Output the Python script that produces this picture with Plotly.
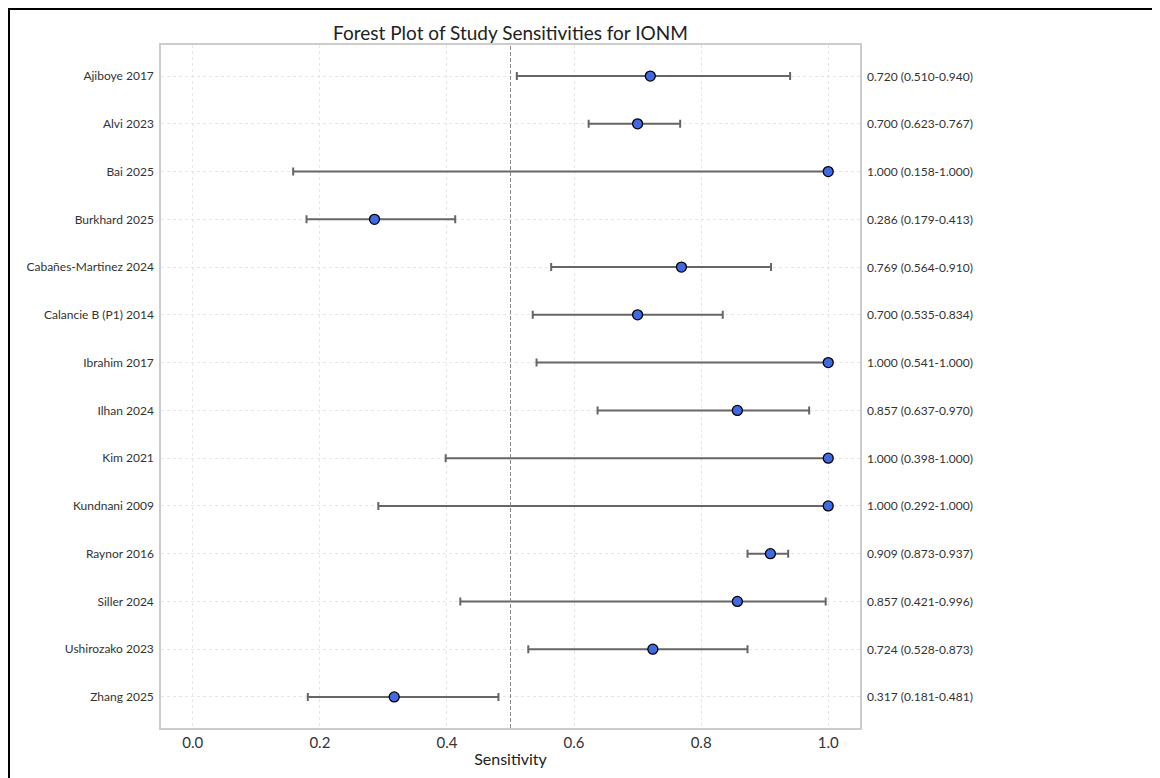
import plotly.graph_objects as go

studies = ["Ajiboye 2017", "Alvi 2023", "Bai 2025", "Burkhard 2025", "Cabañes-Martinez 2024",
           "Calancie B (P1) 2014", "Ibrahim 2017", "Ilhan 2024", "Kim 2021", "Kundnani 2009",
           "Raynor 2016", "Siller 2024", "Ushirozako 2023", "Zhang 2025"]
sens = [0.720, 0.700, 1.000, 0.286, 0.769, 0.700, 1.000, 0.857, 1.000, 1.000, 0.909, 0.857, 0.724, 0.317]
lower = [0.510, 0.623, 0.158, 0.179, 0.564, 0.535, 0.541, 0.637, 0.398, 0.292, 0.873, 0.421, 0.528, 0.181]
upper = [0.940, 0.767, 1.000, 0.413, 0.910, 0.834, 1.000, 0.970, 1.000, 1.000, 0.937, 0.996, 0.873, 0.481]
x_ticks = [0.0, 0.2, 0.4, 0.6, 0.8, 1.0]

FONT = "Lato"
OFF = 8  # page body margin
W, H = 1160 - OFF, 778 - OFF
L, T = 161 - OFF, 45 - OFF
pw, ph = 699, 683
R, B = W - L - pw, H - T - ph

ypos = list(range(len(studies)))

fig = go.Figure()
fig.add_trace(go.Scatter(
    x=sens, y=ypos, mode="markers",
    marker=dict(color="#4169E1", size=10, line=dict(color="black", width=1.3)),
    error_x=dict(type="data", symmetric=False,
                 array=[u - s for u, s in zip(upper, sens)],
                 arrayminus=[s - l for s, l in zip(sens, lower)],
                 color="#666666", thickness=2, width=4),
    showlegend=False, hoverinfo="skip",
))

fig.add_vline(x=0.5, line=dict(color="#888888", width=1, dash="4px,2px"))

for i, (s, lo, up) in enumerate(zip(sens, lower, upper)):
    fig.add_annotation(x=(865 - OFF - L) / pw, xref="paper", y=i, yref="y",
                       text=f"{s:.3f} ({lo:.3f}-{up:.3f})", showarrow=False,
                       xanchor="left", yanchor="middle",
                       font=dict(family=FONT, size=12, color="#333333"))

# outer border
fig.add_shape(type="rect", xref="paper", yref="paper",
              x0=(9 - OFF - L) / pw, x1=(W + 10 - L) / pw,
              y0=-(H + 10 - (T + ph)) / ph, y1=1 + (T - (9 - OFF)) / ph,
              line=dict(color="black", width=2), fillcolor="rgba(0,0,0,0)")

fig.update_xaxes(range=[-0.05, 1.05], tickvals=x_ticks, ticktext=[f"{v:.1f}" for v in x_ticks],
                 showgrid=True, gridcolor="#e6e6e6", griddash="dot", gridwidth=1,
                 zeroline=False, showline=True, linecolor="#cccccc", linewidth=1.5, mirror=True,
                 ticks="", tickfont=dict(family=FONT, size=15, color="#333333"),
                 title=dict(text="Sensitivity", font=dict(family=FONT, size=16, color="#222222"), standoff=4))
fig.update_yaxes(range=[len(studies) - 1 + 0.65, -0.65], tickvals=ypos, ticktext=studies,
                 showgrid=True, gridcolor="#e6e6e6", griddash="dot", gridwidth=1,
                 zeroline=False, showline=True, linecolor="#cccccc", linewidth=1.5, mirror=True,
                 ticks="", ticklabelstandoff=3, tickfont=dict(family=FONT, size=12, color="#333333"))

fig.update_layout(
    width=W, height=H,
    margin=dict(l=L, r=R, t=T, b=B),
    plot_bgcolor="white", paper_bgcolor="white",
    title=dict(text="Forest Plot of Study Sensitivities for IONM", x=(L + pw / 2) / W, xanchor="center",
               y=1 - (33 - OFF) / H, yanchor="middle", font=dict(family=FONT, size=19, color="#222222")),
)

fig.write_html("out.html")
